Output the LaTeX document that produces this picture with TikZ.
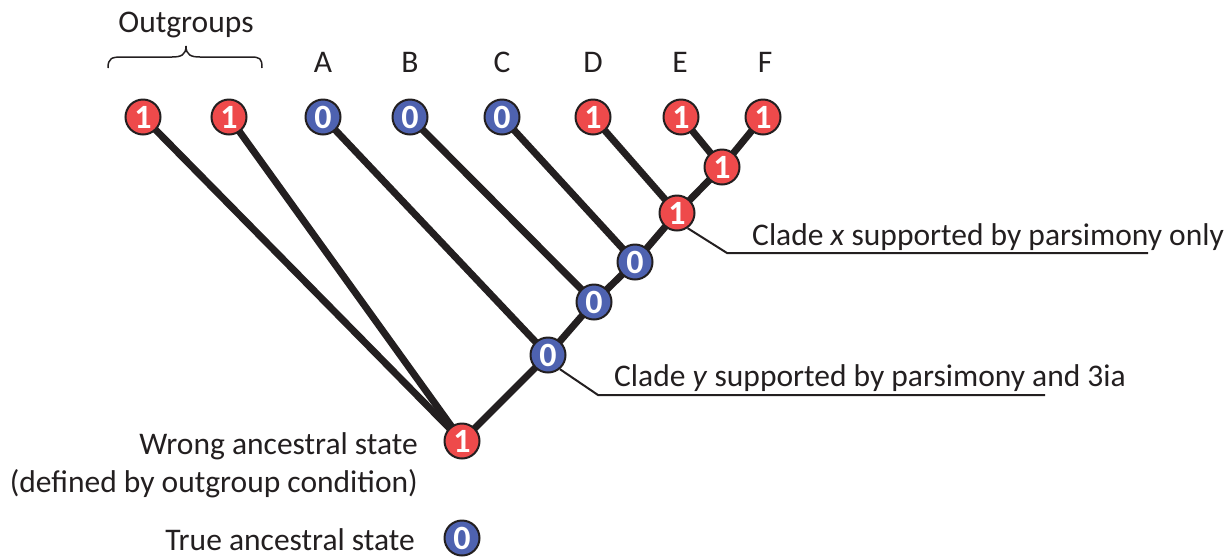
\documentclass[tikz,border=0pt]{standalone}
\usepackage{fontspec}
\setmainfont{Carlito}
\usetikzlibrary{backgrounds}
\definecolor{redst}{HTML}{EE4A4B}
\definecolor{bluest}{HTML}{4E62B0}
\definecolor{ink}{HTML}{231F20}
\tikzset{
  st/.style={circle,draw=ink,line width=2pt,minimum size=35pt,inner sep=0pt,text=white,
    font=\fontsize{34}{34}\selectfont\bfseries},
  one/.style={st,fill=redst},
  zero/.style={st,fill=bluest},
  branch/.style={draw=ink,line width=7pt},
  callout/.style={draw=ink,line width=2pt},
  lbl/.style={text=ink,inner sep=0pt,font=\fontsize{31.5}{38}\selectfont}
}
\begin{document}
\begin{tikzpicture}[x=1pt,y=-1pt]
\useasboundingbox (0,0) rectangle (1230,558);
% tips
\node[one]  (o1) at (143,117) {1};
\node[one]  (o2) at (229,117) {1};
\node[zero] (a)  at (323,117) {0};
\node[zero] (b)  at (410,117) {0};
\node[zero] (c)  at (502,117) {0};
\node[one]  (d)  at (593,117) {1};
\node[one]  (e)  at (681,117) {1};
\node[one]  (f)  at (763,117) {1};
% internal
\node[one]  (ef) at (722,167) {1};
\node[one]  (nd) at (677,213) {1};
\node[zero] (nc) at (635,262) {0};
\node[zero] (nb) at (594,302) {0};
\node[zero] (na) at (548,355) {0};
\node[one]  (root) at (462,441) {1};
\node[zero] (leg) at (462,538) {0};
\begin{pgfonlayer}{background}
\draw[branch] (o1.center) -- (root.center);
\draw[branch] (o2.center) -- (root.center);
\draw[branch] (a.center) -- (na.center);
\draw[branch] (b.center) -- (nb.center);
\draw[branch] (c.center) -- (nc.center);
\draw[branch] (d.center) -- (nd.center);
\draw[branch] (e.center) -- (ef.center);
\draw[branch] (f.center) -- (ef.center);
\draw[branch] (ef.center) -- (nd.center) -- (nc.center) -- (nb.center) -- (na.center) -- (root.center);
\end{pgfonlayer}
% labels
\node[lbl] (outg) at (186,25) {Outgroups};
\draw[ink,line width=1.5pt] (108,68) .. controls (108,58) and (112,57) .. (122,57)
  -- (172,57) .. controls (181,57) and (186,55) .. (186,46)
  .. controls (186,55) and (191,57) .. (200,57) -- (250,57)
  .. controls (260,57) and (262,58) .. (262,68);
\node[lbl] (la) at (323,62) {A};
\node[lbl] (lb) at (410,62) {B};
\node[lbl] (lc) at (502,62) {C};
\node[lbl] (ld) at (593,62) {D};
\node[lbl] (le) at (680,62) {E};
\node[lbl] (lf) at (765,62) {F};
% callouts
\coordinate (kx) at (727,253);
\coordinate (ex) at (1148,253);
\draw[callout] (nd.-55) -- (kx) -- (ex);
\node[lbl,anchor=west] (tx) at (752,237) {Clade \textit{x} supported by parsimony only};
\coordinate (ky) at (598,395);
\coordinate (ey) at (1045,395);
\draw[callout] (na.-50) -- (ky) -- (ey);
\node[lbl,anchor=west] (ty) at (614,378) {Clade \textit{y} supported by parsimony and 3ia};
\node[lbl,anchor=east,align=right] (wrong) at (418,465) {Wrong ancestral state\\(defined by outgroup condition)};
\node[lbl,anchor=east] (true) at (415,540) {True ancestral state};
\end{tikzpicture}
\end{document}
